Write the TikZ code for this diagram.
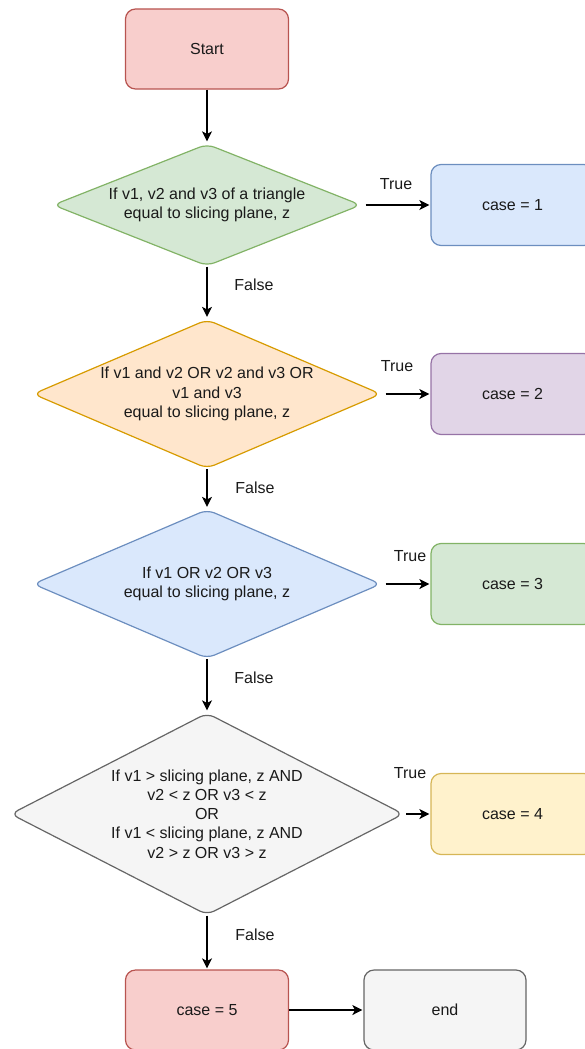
\documentclass[tikz,border=0pt]{standalone}
\usepackage{fontspec}
\setmainfont{Liberation Sans}
\usetikzlibrary{shapes.geometric,arrows.meta}

% draw.io palette
\definecolor{redF}{HTML}{F8CECC}\definecolor{redD}{HTML}{B85450}
\definecolor{greenF}{HTML}{D5E8D4}\definecolor{greenD}{HTML}{82B366}
\definecolor{blueF}{HTML}{DAE8FC}\definecolor{blueD}{HTML}{6C8EBF}
\definecolor{orangeF}{HTML}{FFE6CC}\definecolor{orangeD}{HTML}{D79B00}
\definecolor{purpleF}{HTML}{E1D5E7}\definecolor{purpleD}{HTML}{9673A6}
\definecolor{grayF}{HTML}{F5F5F5}\definecolor{grayD}{HTML}{666666}
\definecolor{yellowF}{HTML}{FFF2CC}\definecolor{yellowD}{HTML}{D6B656}
\definecolor{ink}{HTML}{1A1A1A}

\begin{document}
\begin{tikzpicture}[x=1pt,y=-1pt,
  every node/.style={font=\fontsize{16}{19.2}\selectfont, text=ink},
  box/.style={rectangle, rounded corners=10pt, draw, line width=1.2pt,
    minimum width=163pt, minimum height=80pt, inner sep=0pt},
  dia/.style={diamond, rounded corners=8pt, draw, line width=1.2pt, inner sep=0pt},
  txt/.style={align=center, inner sep=0pt},
  flow/.style={draw=black, line width=1.3pt, -{Stealth[length=10pt,width=10pt,inset=2.5pt]}},
  lbl/.style={inner sep=0pt}]

\useasboundingbox (0,0) rectangle (585,1049);
\clip (0,0) rectangle (585,1049);

% main column
\node[box, fill=redF, draw=redD] (start) at (207,49) {Start};

\node[dia, fill=greenF, draw=greenD, minimum width=308pt, minimum height=122pt,
  label={[txt]center:If v1, v2 and v3 of a triangle\\equal to slicing plane, z}]
  (d1) at (207,205) {};

\node[dia, fill=orangeF, draw=orangeD, minimum width=348pt, minimum height=149pt,
  label={[txt]center:If v1 and v2 OR v2 and v3 OR\\v1 and v3\\equal to slicing plane, z}]
  (d2) at (207,394) {};

\node[dia, fill=blueF, draw=blueD, minimum width=348pt, minimum height=149pt,
  label={[txt]center:If v1 OR v2 OR v3\\equal to slicing plane, z}]
  (d3) at (207,584) {};

\node[dia, fill=grayF, draw=grayD, minimum width=393pt, minimum height=202pt,
  label={[txt]center:If v1 > slicing plane, z AND\\v2 < z OR v3 < z\\OR\\If v1 < slicing plane, z AND\\v2 > z OR v3 > z}]
  (d4) at (207,814) {};

\node[box, fill=redF, draw=redD] (c5) at (207,1010) {case = 5};
\node[box, fill=grayF, draw=grayD, minimum width=162pt, minimum height=80pt] (end) at (445,1010) {end};

% outcome boxes on the right
\node[box, fill=blueF, draw=blueD, minimum height=81pt] (c1) at (512.5,205) {case = 1};
\node[box, fill=purpleF, draw=purpleD, minimum height=81pt] (c2) at (512.5,394) {case = 2};
\node[box, fill=greenF, draw=greenD, minimum height=81pt] (c3) at (512.5,584) {case = 3};
\node[box, fill=yellowF, draw=yellowD, minimum height=81pt] (c4) at (512.5,814) {case = 4};

% connectors
\draw[flow, shorten >=2pt] (start) -- (d1);
\draw[flow, shorten <=4pt, shorten >=1pt] (d1.east) -- (c1.west);
\draw[flow, shorten >=2pt] (d1) -- (d2);
\draw[flow, shorten <=4pt, shorten >=1pt] (d2.east) -- (c2.west);
\draw[flow, shorten >=2pt] (d2) -- (d3);
\draw[flow, shorten <=4pt, shorten >=1pt] (d3.east) -- (c3.west);
\draw[flow, shorten >=2pt] (d3) -- (d4);
\draw[flow, shorten <=2pt, shorten >=1pt] (d4.east) -- (c4.west);
\draw[flow, shorten >=1pt] (d4) -- (c5);
\draw[flow, shorten >=1pt] (c5) -- (end);

% branch labels
\node[lbl] (t1) at (396,184) {True};
\node[lbl] (t2) at (397,366) {True};
\node[lbl] (t3) at (410,556) {True};
\node[lbl] (t4) at (410,773) {True};
\node[lbl] (f1) at (254,285) {False};
\node[lbl] (f2) at (255,488) {False};
\node[lbl] (f3) at (254,678) {False};
\node[lbl] (f4) at (255,935) {False};
\end{tikzpicture}
\end{document}
